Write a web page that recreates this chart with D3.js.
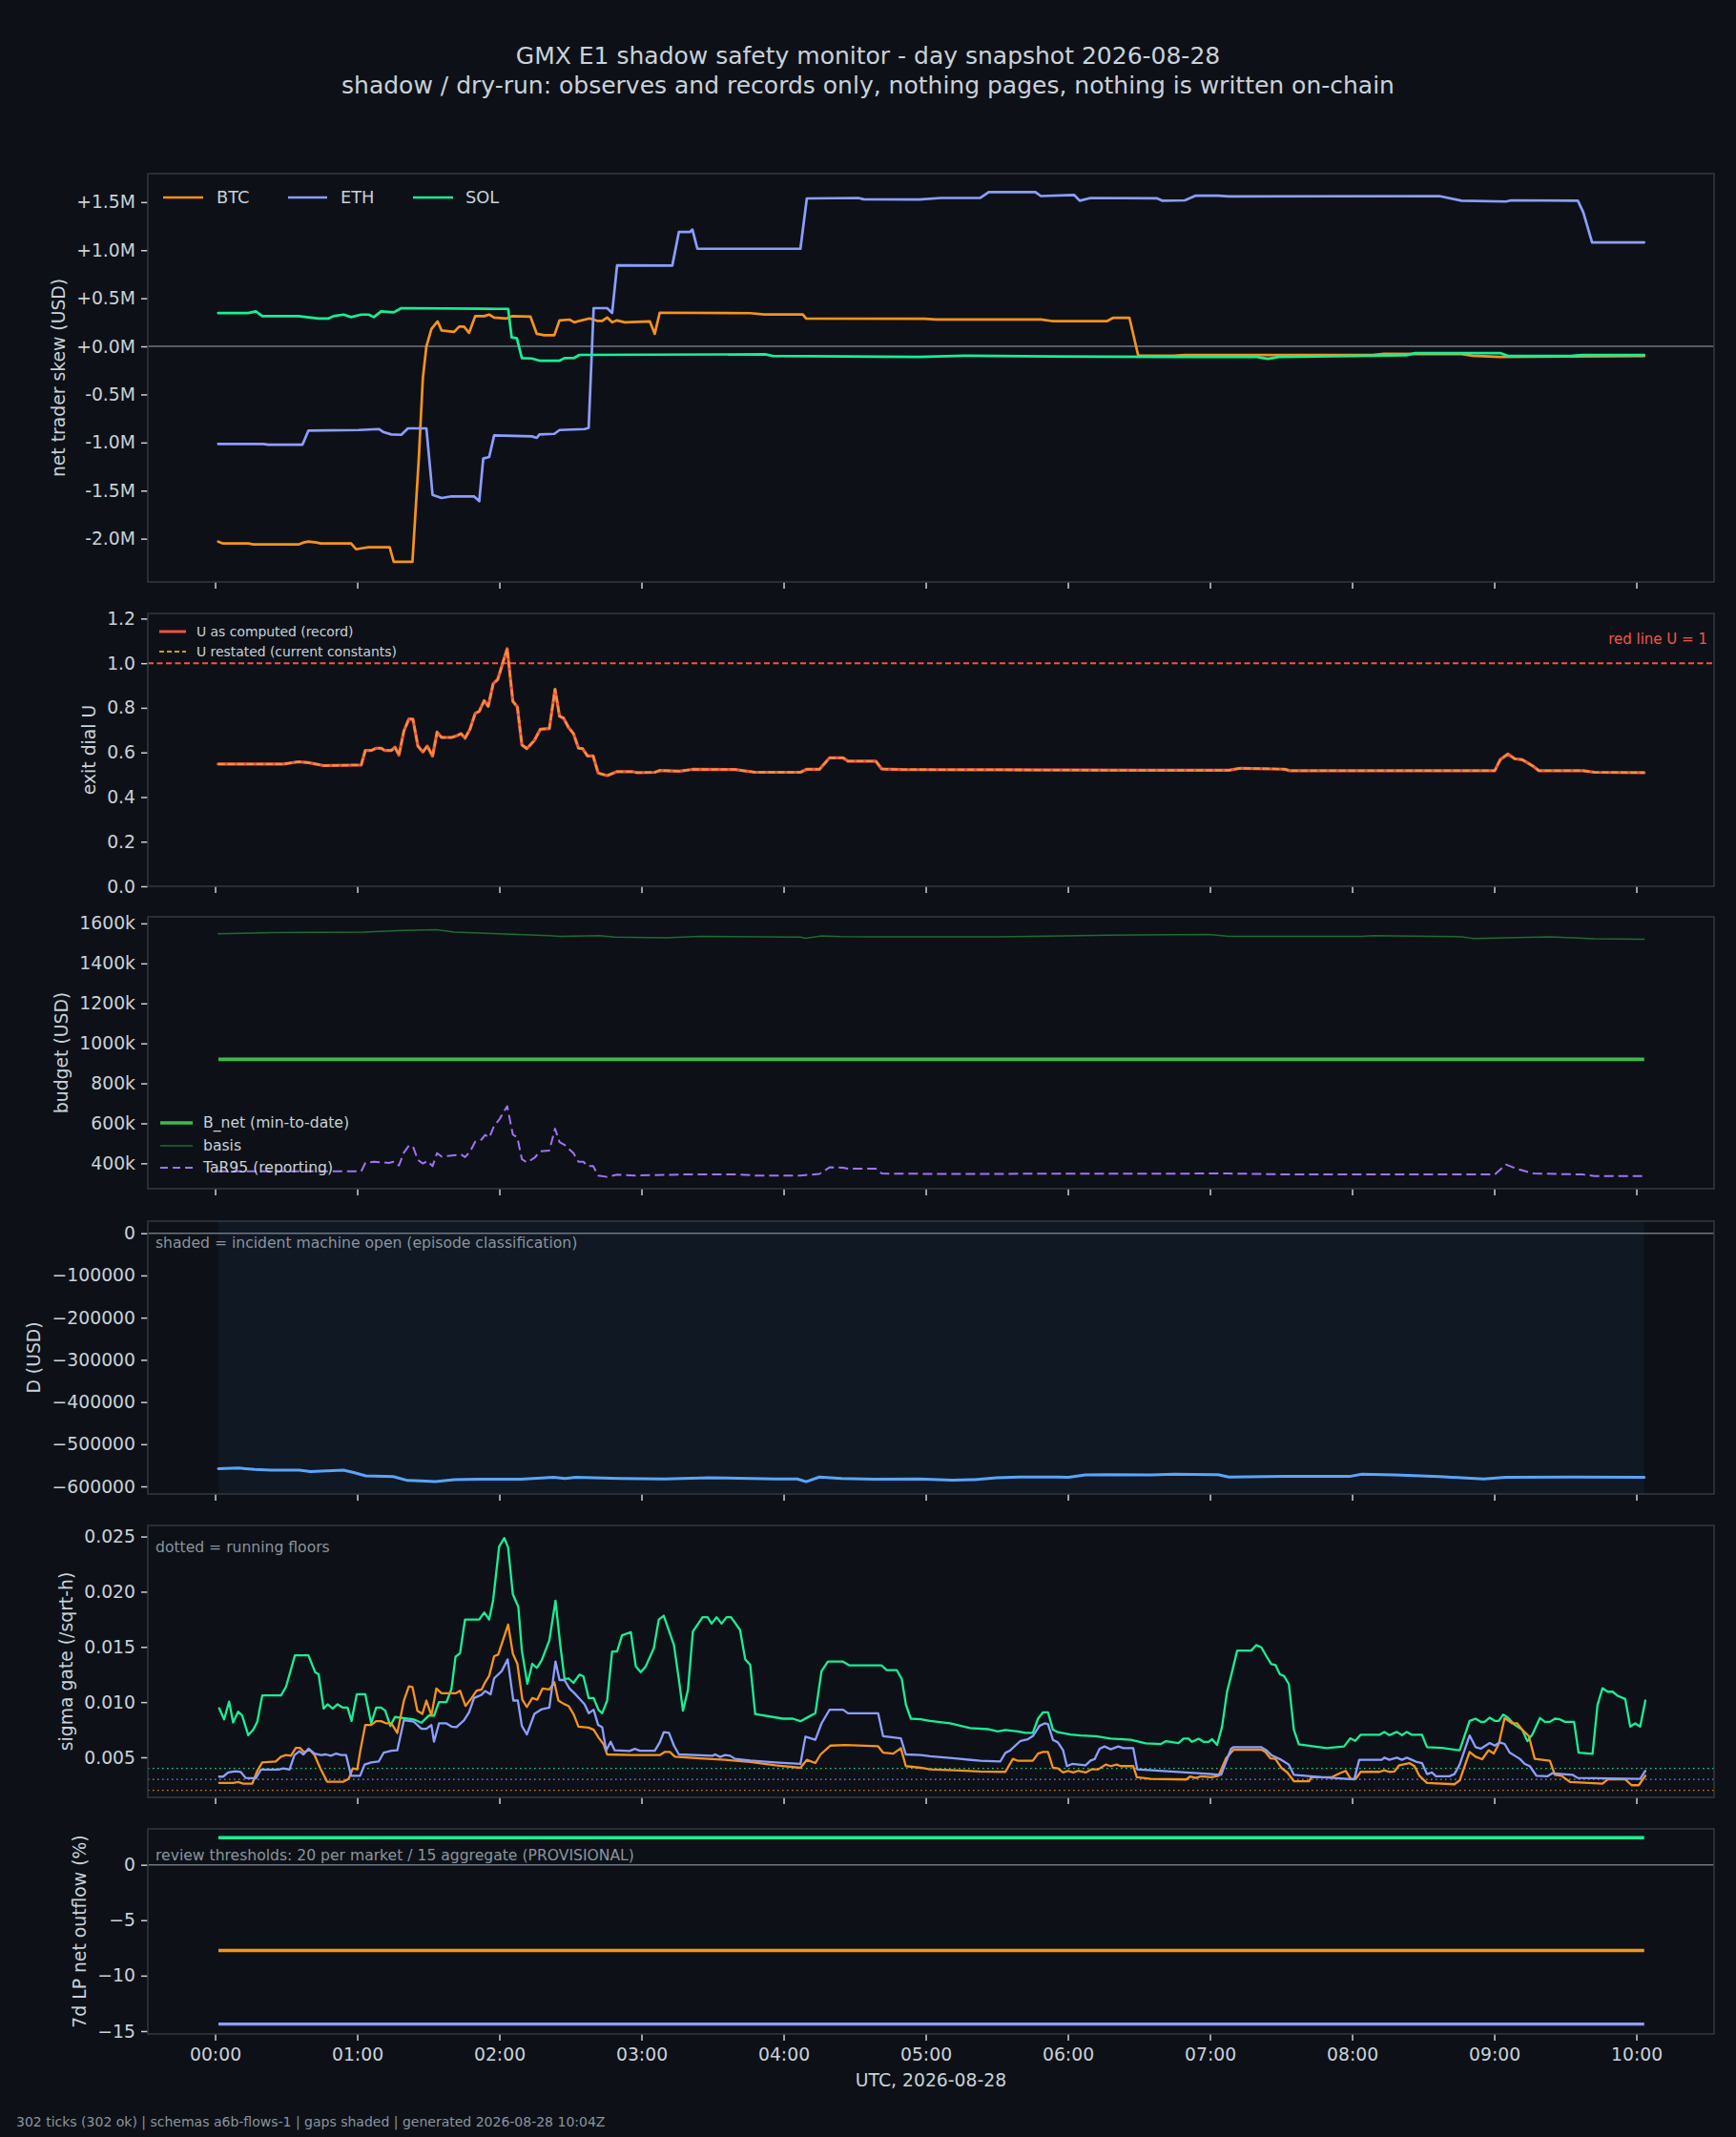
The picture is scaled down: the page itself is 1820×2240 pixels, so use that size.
<!DOCTYPE html>
<html><head><meta charset="utf-8">
<script src="https://cdn.jsdelivr.net/npm/d3@7"></script>
<style>
html,body{margin:0;padding:0;background:#0d1117;}
svg{display:block;}
text{font-family:"DejaVu Sans",sans-serif;}
</style></head><body>
<svg id="chart" width="1820" height="2240"></svg>
<script>
// ---------------- DATA (time = minutes after 00:00 UTC, value) ----------------
const titleLines = ["GMX E1 shadow safety monitor - day snapshot 2026-08-28",
  "shadow / dry-run: observes and records only, nothing pages, nothing is written on-chain"];
const footerText = "302 ticks (302 ok) | schemas a6b-flows-1 | gaps shaded | generated 2026-08-28 10:04Z";
const markets = ["BTC", "ETH", "SOL"];
const hourTicks = [0,60,120,180,240,300,360,420,480,540,600];
const hourLabels = ["00:00","01:00","02:00","03:00","04:00","05:00","06:00","07:00","08:00","09:00","10:00"];
const windowStart = 1.4, windowEnd = 603.3;

// net trader skew (USD millions)
const skewBTC = [[1.3,-2.03],[3.4,-2.05],[14,-2.05],[16.1,-2.06],[35.2,-2.06],[37.3,-2.04],[39.4,-2.03],[42.6,-2.04],[44.7,-2.05],[57.4,-2.05],[59.5,-2.11],[61.7,-2.10],[64.8,-2.09],[73.7,-2.09],[75.4,-2.24],[83.3,-2.24],[86,-1.16],[87.7,-0.33],[89.2,0],[91.3,0.18],[93.9,0.26],[95.6,0.165],[100.9,0.15],[103,0.205],[105.1,0.205],[107.2,0.14],[109.8,0.314],[113.6,0.314],[115.7,0.33],[117.8,0.30],[123.1,0.29],[125.2,0.314],[133.1,0.31],[135.8,0.13],[139,0.116],[143.2,0.116],[145.4,0.27],[149.6,0.278],[151.7,0.25],[153.8,0.265],[158.1,0.29],[161.3,0.265],[163.4,0.265],[165.5,0.30],[167.6,0.25],[169.7,0.27],[172.9,0.25],[183.5,0.26],[185.6,0.13],[187.7,0.35],[226,0.345],[231.8,0.332],[248.1,0.332],[249.5,0.29],[299.5,0.287],[304.2,0.28],[348.6,0.28],[353.3,0.263],[376.6,0.263],[379,0.296],[386,0.296],[389.7,-0.097],[404.7,-0.097],[409.4,-0.09],[488.8,-0.09],[493.5,-0.077],[526.2,-0.08],[530.9,-0.097],[542.5,-0.11],[603.3,-0.10]];
const skewETH = [[1.3,-1.015],[20.3,-1.015],[22.5,-1.022],[36.9,-1.022],[39.4,-0.876],[60.6,-0.87],[69.1,-0.86],[71.2,-0.893],[74.4,-0.916],[78.6,-0.92],[81.4,-0.853],[89.2,-0.853],[91.8,-1.544],[95.6,-1.577],[99.8,-1.56],[109.3,-1.56],[111.5,-1.61],[113.2,-1.167],[115.7,-1.15],[117.8,-0.926],[133.7,-0.936],[135.8,-0.952],[136.9,-0.916],[143.2,-0.91],[145.4,-0.87],[156,-0.86],[157.7,-0.847],[159.8,0.397],[165.5,0.397],[167.6,0.347],[169.7,0.843],[193,0.84],[195.8,1.19],[200.5,1.19],[201.5,1.214],[203.6,1.015],[247.1,1.015],[249.8,1.538],[271.5,1.543],[273.8,1.53],[297.2,1.527],[306.5,1.543],[322.9,1.543],[326.6,1.603],[346.3,1.603],[348.6,1.563],[362.6,1.575],[365,1.514],[369.6,1.543],[397.7,1.539],[400,1.514],[409.4,1.518],[414,1.567],[423.4,1.567],[428,1.559],[516.8,1.563],[526.2,1.514],[544.9,1.506],[547.2,1.518],[575.3,1.514],[577.6,1.393],[581.3,1.081],[603.3,1.081]];
const skewSOL = [[1.3,0.347],[14,0.347],[17.2,0.364],[19.9,0.314],[35.2,0.314],[43.7,0.29],[47.9,0.29],[50,0.314],[54.2,0.33],[57.4,0.304],[61.7,0.33],[64.8,0.33],[67,0.304],[70.1,0.364],[75.4,0.354],[78.6,0.397],[119.9,0.39],[123.7,0.39],[125.2,0.093],[127.4,0.083],[129.5,-0.122],[133.7,-0.126],[136.9,-0.149],[145.4,-0.149],[147.5,-0.122],[151.7,-0.119],[153.8,-0.089],[232.2,-0.083],[235.4,-0.10],[297.2,-0.11],[315.9,-0.097],[353.3,-0.105],[404.7,-0.11],[439.7,-0.11],[444.4,-0.13],[449.1,-0.11],[502.8,-0.093],[506.6,-0.07],[542.5,-0.07],[545.8,-0.10],[572.9,-0.097],[577.6,-0.09],[603.3,-0.09]];

// exit dial U
const exitU = [[1.3,0.548],[28.8,0.548],[35.2,0.558],[39.4,0.554],[45.8,0.541],[61.7,0.544],[63.4,0.609],[65.9,0.609],[68,0.619],[70.1,0.619],[71.6,0.609],[74.4,0.609],[75.9,0.624],[77.6,0.588],[79.7,0.696],[81.8,0.75],[83.5,0.749],[85.6,0.629],[87.7,0.602],[89.6,0.629],[91.8,0.583],[93.7,0.691],[95.6,0.667],[99.8,0.667],[101.9,0.674],[103.8,0.684],[105.5,0.664],[107.6,0.704],[109.8,0.775],[111.5,0.784],[113.6,0.832],[115.3,0.807],[117.4,0.908],[119.3,0.927],[123.3,1.065],[125.7,0.829],[127.6,0.804],[129.5,0.634],[131.6,0.617],[134.8,0.654],[137.3,0.704],[141.1,0.707],[143.5,0.883],[145.4,0.762],[147.1,0.754],[149.2,0.712],[151.3,0.684],[153.4,0.619],[155.1,0.617],[157.2,0.584],[159.6,0.584],[161.7,0.508],[165.5,0.496],[169.7,0.514],[176.1,0.514],[178.2,0.509],[185.6,0.511],[187.7,0.519],[196.2,0.516],[201.5,0.524],[219.5,0.523],[228,0.511],[247.1,0.511],[249.6,0.524],[255.1,0.524],[259.4,0.576],[265.1,0.576],[267.2,0.561],[278.9,0.561],[281.4,0.526],[289.5,0.523],[330,0.522],[390.7,0.52],[428,0.52],[432.7,0.529],[451.4,0.525],[453.7,0.518],[540.2,0.518],[542.5,0.567],[545.8,0.593],[548.6,0.572],[551.9,0.567],[556.6,0.537],[558.9,0.518],[577.6,0.518],[582.3,0.511],[603.3,0.509]];
const redLineU = 1.0;

// budget (USD thousands)
const bNetK = 920;
const basisK = [[1.3,1548],[24.6,1554],[62.7,1557],[79.7,1565],[93.4,1569],[100.9,1557],[119.9,1548],[141.1,1539],[145.4,1535],[162.3,1539],[168.7,1532],[189.9,1528],[204.7,1535],[247.1,1532],[249.2,1526],[255.6,1537],[264,1534],[278.5,1533],[330,1533],[358,1537],[376.6,1541],[418.7,1545],[428,1535],[484.1,1535],[488.8,1539],[526.2,1533],[530.9,1525],[563.6,1533],[582.3,1523],[603.3,1521]];
const tar95K = [[1.3,360],[61.7,360],[63.4,402],[67,408],[73.3,402],[75.4,408],[77.6,389],[79.7,454],[81.8,488],[83.5,486],[85.6,417],[87.7,399],[89.6,411],[91.8,386],[93.7,451],[95.6,434],[104,443],[105.5,431],[107.6,458],[109.8,508],[112.5,519],[114,542],[115.7,529],[117.8,588],[119.9,618],[123.3,686],[125.7,544],[127.6,529],[129.5,421],[131.6,404],[134.8,427],[137.3,460],[141.1,464],[143.5,573],[145.4,506],[147.5,492],[151.3,451],[153.4,408],[155.5,408],[157.2,386],[159.6,386],[161.7,339],[165.5,332],[169.7,343],[177.2,339],[200.5,345],[219.5,345],[228,339],[247.1,339],[255.1,347],[259.4,380],[265.1,378],[267.2,373],[278.9,373],[281.4,349],[303.9,347],[428,349],[456.1,344],[540.2,344],[544.9,394],[549.5,373],[556.6,349],[577.6,344],[582.3,336],[603.3,336]];

// D (USD thousands)
const dK = [[1.4,-558],[9.8,-556.5],[16.8,-560],[23.8,-561.4],[35.5,-561.4],[40.2,-564.8],[47.2,-563],[54.2,-561.4],[58.9,-567.6],[63.6,-575],[75.2,-576.9],[81.3,-586],[86.9,-586.7],[93,-588.8],[100.9,-584.1],[110.3,-583.2],[129,-583.2],[143,-578.6],[147.7,-581.4],[152.3,-578.6],[171,-581.4],[189.7,-582.3],[208.4,-579.5],[236.5,-582.3],[245.8,-582.3],[249.5,-588.8],[255.1,-577.8],[264.5,-581.4],[278.5,-583.2],[297.2,-582.3],[311.2,-585],[320.6,-584.1],[329.9,-579.5],[339.3,-577.8],[355.6,-577.8],[360.3,-578.6],[367.3,-573],[376.6,-572.2],[395.3,-573],[404.7,-571.2],[423.4,-572.2],[428,-577.8],[451.4,-575.9],[479.4,-575.9],[484.1,-571.2],[498.1,-573],[516.8,-576.9],[526.2,-579.5],[535.5,-582.3],[544.9,-578.6],[572.9,-577.8],[603.3,-578.6]];

// sigma gate (/sqrt-h)
const sigmaBTC = [[1.7,0.00268],[7.6,0.00268],[9.7,0.00276],[11.9,0.00262],[15.7,0.00262],[17.8,0.00377],[19.9,0.00454],[25.6,0.00463],[27.8,0.00506],[29.9,0.0052],[32,0.00514],[34.1,0.00586],[35.8,0.00586],[37.7,0.00543],[39.8,0.00572],[42,0.0052],[44.3,0.00405],[47.3,0.00279],[54.2,0.00279],[56.4,0.00305],[58.1,0.00399],[60,0.0039],[61.2,0.00549],[63.4,0.00793],[65.9,0.00793],[68,0.00827],[70.1,0.00827],[72.3,0.00807],[74.4,0.00807],[76.9,0.00721],[79.7,0.01014],[81.8,0.01143],[83.3,0.01137],[85.4,0.00922],[87.5,0.00893],[89.2,0.01014],[91.3,0.00879],[93.4,0.01123],[95.6,0.0108],[101.5,0.0108],[103.4,0.01103],[105.7,0.00965],[108.3,0.01037],[110.4,0.01103],[112.5,0.01114],[114,0.0118],[115.7,0.01238],[117.8,0.01416],[119.5,0.0143],[123.7,0.01702],[125.7,0.01438],[127.6,0.01347],[129.7,0.01022],[131.6,0.00956],[133.9,0.01037],[136,0.01022],[138.2,0.01123],[141.1,0.01114],[143.2,0.0118],[144.9,0.01014],[147.1,0.00985],[149.2,0.00965],[151.3,0.00893],[153.4,0.00778],[157.7,0.00769],[159.8,0.0075],[161.9,0.00678],[164,0.00618],[165.5,0.00526],[176.1,0.0052],[187.7,0.0052],[189.9,0.00549],[192,0.00549],[194.1,0.00506],[204.7,0.00491],[215.3,0.00477],[225.9,0.00457],[236.5,0.00428],[247.1,0.00405],[249.8,0.00477],[253.4,0.00448],[255.6,0.00526],[259.8,0.00606],[266.1,0.00612],[279.9,0.006],[282,0.00543],[286.3,0.00534],[289.5,0.00583],[291.6,0.0042],[297.9,0.00405],[301.8,0.0039],[312.4,0.00382],[323,0.00371],[333.6,0.00368],[336.8,0.00486],[338.9,0.00468],[345.2,0.00468],[347.4,0.00534],[349.5,0.00549],[351.6,0.00549],[353.7,0.00405],[355.8,0.00399],[358,0.00362],[360.1,0.00377],[362.2,0.00362],[364.3,0.00377],[367.5,0.00362],[370,0.00391],[372.8,0.00391],[376,0.00434],[378.1,0.0042],[380.6,0.00434],[382.3,0.0042],[387.6,0.0042],[389.1,0.00319],[395,0.00305],[409.9,0.00299],[411.6,0.00325],[414.1,0.00313],[416.2,0.00328],[420.5,0.00319],[423.6,0.00333],[426.8,0.00491],[430,0.00569],[441.7,0.00569],[443.3,0.00549],[445.5,0.00491],[447.6,0.00486],[450.1,0.00405],[452.7,0.00362],[455.4,0.00284],[461.8,0.00282],[462.8,0.00319],[471.3,0.00319],[474.5,0.00353],[477.3,0.00377],[479.4,0.00305],[481.5,0.00305],[483.6,0.00368],[491.5,0.00368],[493.6,0.00382],[495.7,0.00368],[497.8,0.00371],[499.9,0.00428],[504.2,0.00448],[506.3,0.0042],[508.4,0.00333],[511.6,0.00268],[523.2,0.00256],[525.4,0.0029],[529.6,0.00549],[532.1,0.00506],[534.9,0.00483],[537.6,0.00564],[539.8,0.00535],[541.9,0.00621],[544.4,0.00856],[547.6,0.00807],[549.7,0.00807],[551.8,0.0075],[554.6,0.00692],[557.1,0.00486],[563.5,0.00468],[565.6,0.00342],[568.4,0.00333],[572,0.00276],[585.7,0.00262],[587.9,0.003],[595.3,0.003],[598,0.00247],[601,0.00247],[603.8,0.00333]];
const sigmaETH = [[1.7,0.00325],[3.4,0.00325],[5.5,0.00362],[8.7,0.00374],[10.8,0.00368],[12.9,0.00313],[17.2,0.0031],[19.3,0.00388],[26.7,0.00388],[28.8,0.00399],[31.4,0.00388],[33.5,0.0052],[35.6,0.00555],[37.3,0.00526],[39.4,0.00578],[42,0.00534],[44.7,0.0052],[46.8,0.00526],[48.9,0.00514],[51.1,0.00534],[53.2,0.0052],[55.3,0.0052],[57.4,0.00333],[61.2,0.00333],[63.1,0.00434],[65.9,0.00454],[69.1,0.00463],[71.2,0.00543],[74.4,0.0056],[76.9,0.00563],[79.7,0.00836],[83.9,0.00822],[87.1,0.00758],[89.2,0.00758],[91.3,0.00793],[92.4,0.00641],[94.5,0.00807],[97.7,0.00807],[99.8,0.00778],[101.9,0.00773],[105.1,0.00836],[107.2,0.00908],[109.3,0.01037],[112.5,0.01066],[114,0.011],[116.3,0.01071],[117.8,0.01215],[121,0.01281],[123.5,0.01387],[125.9,0.01014],[127.8,0.01014],[129.5,0.00784],[131.6,0.00707],[134.8,0.00893],[137.9,0.00936],[141.1,0.0095],[143.7,0.01367],[145.4,0.012],[147.5,0.012],[149.6,0.01123],[151.7,0.0108],[153.8,0.01031],[156,0.0098],[157.7,0.00899],[159.8,0.00931],[161.7,0.00793],[163.4,0.00773],[165.1,0.00563],[167,0.00641],[168.7,0.00563],[175,0.00557],[177.2,0.00577],[179.3,0.0056],[185.6,0.0056],[187.7,0.00635],[189.4,0.00727],[191.6,0.00721],[193.7,0.00606],[195.8,0.00526],[210,0.00514],[211.1,0.00526],[213.2,0.00503],[215.3,0.0052],[217.4,0.00514],[219.5,0.00486],[225.9,0.00471],[236.5,0.00454],[247.1,0.0044],[249.2,0.00687],[253.4,0.00658],[256,0.00807],[259.4,0.00931],[265.1,0.00931],[267.2,0.00899],[279.9,0.00899],[282,0.00692],[289.5,0.00672],[291.6,0.00526],[297.9,0.0052],[301.8,0.00509],[312.4,0.00491],[323,0.00468],[331.5,0.00463],[333.6,0.0054],[335.7,0.00563],[340,0.00649],[343.1,0.00664],[345.2,0.00692],[348,0.00784],[350.1,0.00807],[351.6,0.00801],[353.7,0.00658],[355.8,0.00635],[358,0.00563],[359.6,0.0042],[361.8,0.0044],[367.5,0.00428],[369.6,0.00471],[371.3,0.00483],[373.4,0.00578],[375.5,0.00598],[378.1,0.00572],[381.3,0.00598],[383.4,0.00583],[387.6,0.00583],[389.3,0.00391],[403.5,0.00371],[416.2,0.00354],[424.7,0.00342],[428.9,0.00578],[430,0.00592],[441.7,0.00592],[443.8,0.00563],[445.9,0.0052],[450.1,0.00477],[453.3,0.00434],[455.4,0.00342],[467.1,0.00319],[480.9,0.003],[483,0.00477],[492.5,0.00477],[493.6,0.00497],[495.7,0.00477],[498.9,0.00497],[501,0.00477],[503.1,0.00497],[505.2,0.00477],[507.3,0.00457],[509.5,0.00448],[511.6,0.00348],[513.7,0.00362],[515.4,0.00328],[521.1,0.00328],[523.2,0.00348],[525.4,0.00434],[529.6,0.00698],[532.1,0.00592],[534.3,0.00578],[538.1,0.00629],[540.2,0.00606],[542.3,0.00635],[544.4,0.00621],[546.5,0.00543],[548.7,0.00514],[550.8,0.00486],[552.9,0.0044],[555,0.0042],[557.8,0.00333],[562.4,0.00328],[564.5,0.00356],[568.8,0.00348],[573,0.00342],[575.2,0.00313],[601.6,0.00305],[603.8,0.00377]];
const sigmaSOL = [[1.7,0.00945],[3.8,0.00844],[5.9,0.01005],[7.6,0.00816],[9.7,0.00913],[11.4,0.00879],[14,0.0070],[16.1,0.0075],[17.8,0.00821],[19.9,0.0106],[27.8,0.0106],[29.9,0.01137],[33.7,0.01424],[39.4,0.01424],[42.2,0.01272],[43.7,0.01252],[45.8,0.00942],[47.5,0.0098],[49.6,0.00942],[51.7,0.0098],[53.8,0.00951],[55.9,0.00951],[57.6,0.0083],[59.8,0.01071],[63.4,0.01071],[65.9,0.00807],[68,0.0095],[70.1,0.0095],[71.8,0.00922],[74,0.00784],[75.9,0.00865],[83.9,0.00842],[87.1,0.00813],[90.3,0.00879],[92.4,0.00876],[94.5,0.0100],[97.7,0.0100],[99.8,0.01123],[101.5,0.0141],[103.4,0.01444],[105.5,0.01748],[111.5,0.01748],[113.6,0.01812],[115.7,0.01748],[117.4,0.01926],[119.9,0.02409],[122.1,0.02486],[123.7,0.024],[125.7,0.01975],[128,0.01863],[129.5,0.01467],[131.8,0.01166],[133.9,0.01347],[135.8,0.0131],[137.9,0.01381],[141.1,0.01559],[143.7,0.01918],[145.8,0.01502],[147.5,0.01209],[149.2,0.01215],[151.3,0.01174],[153.8,0.01249],[155.5,0.01232],[157.7,0.01037],[159.8,0.01037],[161.9,0.00928],[163.4,0.00899],[165.5,0.01014],[167.6,0.01459],[169.7,0.01459],[171.8,0.01605],[175.5,0.01634],[177.6,0.01324],[179.7,0.01272],[181.8,0.01324],[185.2,0.01487],[187.3,0.01748],[189.4,0.01783],[193.7,0.01516],[195.8,0.01203],[197.5,0.00922],[199.6,0.01108],[201.7,0.01639],[205.8,0.01769],[207.9,0.01769],[209.6,0.01711],[211.7,0.01769],[213.8,0.01711],[215.9,0.01769],[217.8,0.01769],[221.6,0.01654],[223.8,0.01387],[225.9,0.01338],[228,0.00893],[239.7,0.0085],[243.9,0.0085],[247.1,0.00827],[250.3,0.00864],[253.4,0.00899],[256,0.01281],[258.7,0.01367],[265.1,0.01367],[267.8,0.01332],[281.4,0.01332],[283.5,0.01289],[287.8,0.01289],[289.9,0.01209],[291.6,0.00979],[293.7,0.0085],[297.9,0.00844],[301.8,0.0083],[310.3,0.00807],[318.8,0.00764],[326.2,0.00755],[330.4,0.00735],[333.6,0.00747],[338.9,0.00735],[342.1,0.00721],[345.2,0.00721],[347.4,0.0085],[349.5,0.00908],[351.6,0.00908],[353.7,0.0075],[355.8,0.00727],[359,0.00715],[361.1,0.00707],[365.4,0.00698],[371.7,0.00692],[378.1,0.00669],[386.6,0.00658],[392.9,0.00626],[399.3,0.0062],[401.4,0.00646],[406.7,0.00629],[408.8,0.00669],[410.9,0.00669],[412.4,0.0064],[415.2,0.00669],[417.3,0.0064],[419.4,0.0064],[420.9,0.00664],[423,0.00612],[425.1,0.00778],[427.2,0.01094],[428.9,0.01238],[431.5,0.01467],[437.4,0.01467],[439.5,0.01516],[441.7,0.01496],[443.8,0.01416],[445.9,0.01344],[447.6,0.01338],[449.5,0.01252],[451.2,0.01238],[453.3,0.01163],[455.4,0.0075],[457.5,0.00618],[469.2,0.00583],[476.6,0.00598],[479.2,0.00672],[481.3,0.00649],[483.6,0.00704],[491.5,0.00704],[493.6,0.0073],[495.7,0.00701],[498.9,0.0073],[501,0.00701],[503.1,0.0073],[505.2,0.00704],[509.5,0.00704],[511.6,0.00592],[517.9,0.00586],[525.4,0.00563],[529.6,0.0083],[532.1,0.0085],[534.3,0.00821],[535.9,0.00821],[538.1,0.00859],[540.2,0.0083],[541.9,0.0083],[543.8,0.00888],[545.5,0.00864],[548.7,0.00793],[551.8,0.0075],[554,0.00646],[556.1,0.00707],[559.3,0.00856],[561.4,0.00821],[563.5,0.00821],[565.6,0.0085],[567.7,0.00844],[569.9,0.00821],[573.7,0.00821],[575.6,0.00543],[581.5,0.00532],[583.6,0.00974],[585.7,0.01126],[587.9,0.01094],[590,0.01094],[592.1,0.01057],[595.3,0.01028],[597.4,0.00778],[599.5,0.00807],[601.6,0.00778],[603.8,0.01014]];
const sigmaFloors = [0.0020, 0.0030, 0.0040]; // BTC, ETH, SOL

// 7d LP net outflow (%)
const lpOutflowPct = [-7.73, -14.37, 2.44]; // BTC, ETH, SOL

// axis ticks
const skewTicks = [-2e6,-1.5e6,-1e6,-0.5e6,0,0.5e6,1e6,1.5e6];
const uTicks = [0,0.2,0.4,0.6,0.8,1.0,1.2];
const budgetTicks = [400,600,800,1000,1200,1400,1600];
const dTicks = [-600,-500,-400,-300,-200,-100,0];
const sigmaTicks = [0.005,0.010,0.015,0.020,0.025];
const lpTicks = [-15,-10,-5,0];

// ---------------- STYLE / LAYOUT ----------------
const BG = "#0d1117", FRAME = "#30363d", TXT = "#c9d1d9", MUTED = "#8b949e", ZERO = "#6e7681";
const COL = {BTC:"#f7931a", ETH:"#8c9eff", SOL:"#14f195"};
const FONT = '"DejaVu Sans", sans-serif';
const L = 155, R = 1797;
const svg = d3.select("#chart");
svg.append("rect").attr("width",1820).attr("height",2240).attr("fill",BG);

const x = d3.scaleLinear().domain([-28.4, 632.8]).range([L, R]);
const minus = v => v < 0 ? "\u2212" + String(-v) : String(v);

const panelDefs = [
  {id:"p1", top:182, bottom:610, domain:[-2.45e6,1.796e6], ticks:skewTicks,
   fmt:v=>(v>=0?"+":"-")+Math.abs(v/1e6).toFixed(1)+"M", label:"net trader skew (USD)"},
  {id:"p2", top:643, bottom:929, domain:[0,1.223], ticks:uTicks, fmt:d3.format(".1f"), label:"exit dial U"},
  {id:"p3", top:961, bottom:1246, domain:[273,1633], ticks:budgetTicks, fmt:v=>v+"k", label:"budget (USD)"},
  {id:"p4", top:1280, bottom:1566, domain:[-618,28.7], ticks:dTicks, fmt:v=>minus(Math.round(v*1000)), label:"D (USD)"},
  {id:"p5", top:1599, bottom:1884, domain:[0.00137,0.0260], ticks:sigmaTicks, fmt:d3.format(".3f"), label:"sigma gate (/sqrt-h)"},
  {id:"p6", top:1917, bottom:2132, domain:[-15.26,3.24], ticks:lpTicks, fmt:minus, label:"7d LP net outflow (%)"}
];

const P = {};
panelDefs.forEach((p,i) => {
  const y = d3.scaleLinear().domain(p.domain).range([p.bottom, p.top]);
  const g = svg.append("g");
  g.append("rect").attr("x",L).attr("y",p.top).attr("width",R-L).attr("height",p.bottom-p.top).attr("fill",BG);
  svg.append("clipPath").attr("id","clip-"+p.id).append("rect")
     .attr("x",L).attr("y",p.top).attr("width",R-L).attr("height",p.bottom-p.top);
  const plot = g.append("g").attr("clip-path","url(#clip-"+p.id+")");
  const ya = g.append("g").attr("transform","translate("+L+",0)")
    .call(d3.axisLeft(y).tickValues(p.ticks).tickFormat(p.fmt).tickSize(7).tickPadding(6));
  ya.select(".domain").remove();
  ya.selectAll(".tick line").attr("stroke",TXT).attr("stroke-width",1.5);
  ya.selectAll(".tick text").attr("fill",TXT).style("font-size","18.8px").style("font-family",FONT);
  const xa = g.append("g").attr("transform","translate(0,"+p.bottom+")")
    .call(d3.axisBottom(x).tickValues(hourTicks).tickFormat((d,j)=> i===5 ? hourLabels[j] : "").tickSize(7).tickPadding(8));
  xa.select(".domain").remove();
  xa.selectAll(".tick line").attr("stroke",TXT).attr("stroke-width",1.5);
  xa.selectAll(".tick text").attr("fill",TXT).style("font-size","18.8px").style("font-family",FONT);
  let minX = 1e9;
  ya.selectAll(".tick text").each(function(){ const b=this.getBBox(); minX=Math.min(minX, L + b.x); });
  const cy = (p.top+p.bottom)/2, lx = minX - 19;
  g.append("text").attr("transform","translate("+lx+","+cy+") rotate(-90)")
    .attr("text-anchor","middle").attr("dy","0.35em").attr("fill",TXT)
    .style("font-size","18.8px").style("font-family",FONT).text(p.label);
  P[p.id] = {y, g, plot, def:p};
});

function frame(id){
  const p = P[id].def;
  P[id].g.append("rect").attr("x",L).attr("y",p.top).attr("width",R-L).attr("height",p.bottom-p.top)
    .attr("fill","none").attr("stroke",FRAME).attr("stroke-width",1.6);
}
function path(id, data, color, width, dash){
  const y = P[id].y;
  const ln = d3.line().x(d=>x(d[0])).y(d=>y(d[1]));
  const el = P[id].plot.append("path").datum(data).attr("d",ln)
    .attr("fill","none").attr("stroke",color).attr("stroke-width",width)
    .attr("stroke-linejoin","round").attr("stroke-linecap", dash ? "butt" : "round");
  if (dash) el.attr("stroke-dasharray",dash);
  return el;
}
function hline(id, v, color, width, dash, x0, x1){
  const y = P[id].y;
  const el = P[id].plot.append("line")
    .attr("x1", x0===undefined ? L : x(x0)).attr("x2", x1===undefined ? R : x(x1))
    .attr("y1",y(v)).attr("y2",y(v)).attr("stroke",color).attr("stroke-width",width);
  if (dash) el.attr("stroke-dasharray",dash);
  return el;
}
function txt(g, xx, yy, s, size, color, anchor){
  return g.append("text").attr("x",xx).attr("y",yy).attr("fill",color)
    .attr("text-anchor",anchor||"start").style("font-size",size+"px").style("font-family",FONT).text(s);
}
function legendItem(g, x0, x1, yy, color, width, dash, label, tx, size){
  const l = g.append("line").attr("x1",x0).attr("x2",x1).attr("y1",yy).attr("y2",yy)
    .attr("stroke",color).attr("stroke-width",width);
  if (dash) l.attr("stroke-dasharray",dash);
  txt(g, tx, yy + size*0.35, label, size, TXT);
}

// ---- Panel 1: skew ----
hline("p1", 0, ZERO, 1.5);
const skewSeries = [skewBTC, skewETH, skewSOL];
skewSeries.forEach((s,k) => path("p1", s.map(d=>[d[0], d[1]*1e6]), COL[markets[k]], 2.7));
frame("p1");
{
  const g = P.p1.g;
  legendItem(g,171,213,207,COL.BTC,2.7,null,"BTC",227,17.8);
  legendItem(g,302,343,207,COL.ETH,2.7,null,"ETH",357,17.8);
  legendItem(g,433,475,207,COL.SOL,2.7,null,"SOL",488,17.8);
}

// ---- Panel 2: exit dial ----
hline("p2", redLineU, "#f85149", 2, "6,3.5");
path("p2", exitU, "#f85149", 3.2);
path("p2", exitU, "#ee9530", 2.3, "7,3");
frame("p2");
{
  const g = P.p2.g;
  legendItem(g,167,195,662,"#f85149",3,null,"U as computed (record)",206,13.9);
  legendItem(g,167,195,683,"#d29922",2.2,"5,3","U restated (current constants)",206,13.9);
  txt(g, 1790, 675, "red line U = 1", 15, "#f85149", "end");
}

// ---- Panel 3: budget ----
path("p3", basisK, "#1f6b30", 1.5);
hline("p3", bNetK, "#3fb950", 3.6, null, windowStart, windowEnd);
path("p3", tar95K, "#a371f7", 2, "10,5");
frame("p3");
{
  const g = P.p3.g;
  legendItem(g,168,202,1177,"#3fb950",3.6,null,"B_net (min-to-date)",213,15.6);
  legendItem(g,168,202,1201,"#1f6b30",1.5,null,"basis",213,15.6);
  legendItem(g,168,202,1224,"#a371f7",2,"8,5","TaR95 (reporting)",213,15.6);
}

// ---- Panel 4: D ----
P.p4.plot.append("rect").attr("x",x(windowStart)).attr("y",P.p4.def.top)
  .attr("width",x(windowEnd)-x(windowStart)).attr("height",P.p4.def.bottom-P.p4.def.top)
  .attr("fill","#3b82c4").attr("fill-opacity",0.07);
hline("p4", 0, ZERO, 1.5);
path("p4", dK, "#58a6ff", 3);
frame("p4");
txt(P.p4.g, 163, 1308, "shaded = incident machine open (episode classification)", 15.6, MUTED);

// ---- Panel 5: sigma ----
const sigmaSeries = [sigmaBTC, sigmaETH, sigmaSOL];
sigmaFloors.forEach((f,k) => hline("p5", f, COL[markets[k]], 1.2, "1.6,3.4").attr("stroke-opacity",0.85));
[2,0,1].forEach(k => path("p5", sigmaSeries[k], COL[markets[k]], 2.3));
frame("p5");
txt(P.p5.g, 163, 1627, "dotted = running floors", 15.6, MUTED);

// ---- Panel 6: LP outflow ----
hline("p6", 0, ZERO, 1.5);
lpOutflowPct.forEach((v,k) => hline("p6", v, COL[markets[k]], 3.4, null, windowStart, windowEnd));
frame("p6");
txt(P.p6.g, 163, 1950, "review thresholds: 20 per market / 15 aggregate (PROVISIONAL)", 15.6, MUTED);

// ---- titles / labels ----
txt(svg, 910, 67, titleLines[0], 25, TXT, "middle");
txt(svg, 910, 98, titleLines[1], 25, TXT, "middle");
txt(svg, (L+R)/2, 2187, "UTC, 2026-08-28", 18.8, TXT, "middle");
txt(svg, 17, 2229, footerText, 14, MUTED);
</script>
</body></html>
